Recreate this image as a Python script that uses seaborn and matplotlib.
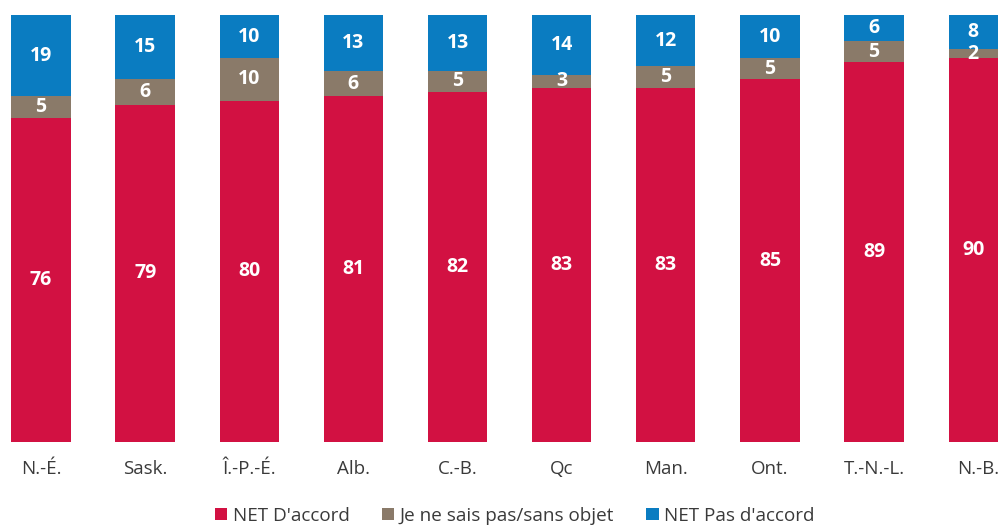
import matplotlib
matplotlib.use("Agg")
import matplotlib.pyplot as plt
from matplotlib.patches import Patch
import seaborn as sns
import pandas as pd
import numpy as np

# Provinces and shares (%)
provinces = ["N.-É.", "Sask.", "Î.-P.-É.", "Alb.", "C.-B.", "Qc", "Man.", "Ont.", "T.-N.-L.", "N.-B."]
accord = [76, 79, 80, 81, 82, 83, 83, 85, 89, 90]
ne_sais_pas = [5, 6, 10, 6, 5, 3, 5, 5, 5, 2]
pas_accord = [19, 15, 10, 13, 13, 14, 12, 10, 6, 8]

series_names = ["NET D'accord", "Je ne sais pas/sans objet", "NET Pas d'accord"]
colors = ["#D21142", "#8A7A69", "#0A7CC1"]

df = pd.DataFrame({"province": provinces, "accord": accord,
                   "nsp": ne_sais_pas, "pas": pas_accord})

sns.set_style("white")
plt.rcParams["font.family"] = ["Open Sans", "DejaVu Sans"]

fig = plt.figure(figsize=(9.98, 5.25), dpi=100)
ax = fig.add_axes([0, 0.158, 1, 0.813])

bottom = np.zeros(len(df))
for col, color in zip(["accord", "nsp", "pas"], colors):
    sns.barplot(data=df, x="province", y=col, color=color, bottom=bottom,
                width=0.57, saturation=1, ax=ax, linewidth=0)
    container = ax.containers[-1]
    ax.bar_label(container, labels=[str(v) for v in df[col]], label_type="center",
                 color="white", fontsize=14, fontweight="bold")
    bottom = bottom + df[col].values

ax.set_xlim(-0.394, 9.19)
ax.set_ylim(0, 100)
ax.set_xlabel("")
ax.set_ylabel("")
ax.set_yticks([])
ax.tick_params(axis="x", length=0, pad=13, labelsize=13.5, labelcolor="#3a3a3a")
sns.despine(ax=ax, left=True, bottom=True)

handles = [Patch(facecolor=c, edgecolor="none", label=n) for c, n in zip(colors, series_names)]
fig.legend(handles=handles, loc="center", bbox_to_anchor=(0.516, 0.018), ncol=3,
           frameon=False, fontsize=13.6, handlelength=0.65, handleheight=0.65,
           handletextpad=0.3, columnspacing=1.7, labelcolor="#3a3a3a")

fig.savefig("out.png", dpi=100)
